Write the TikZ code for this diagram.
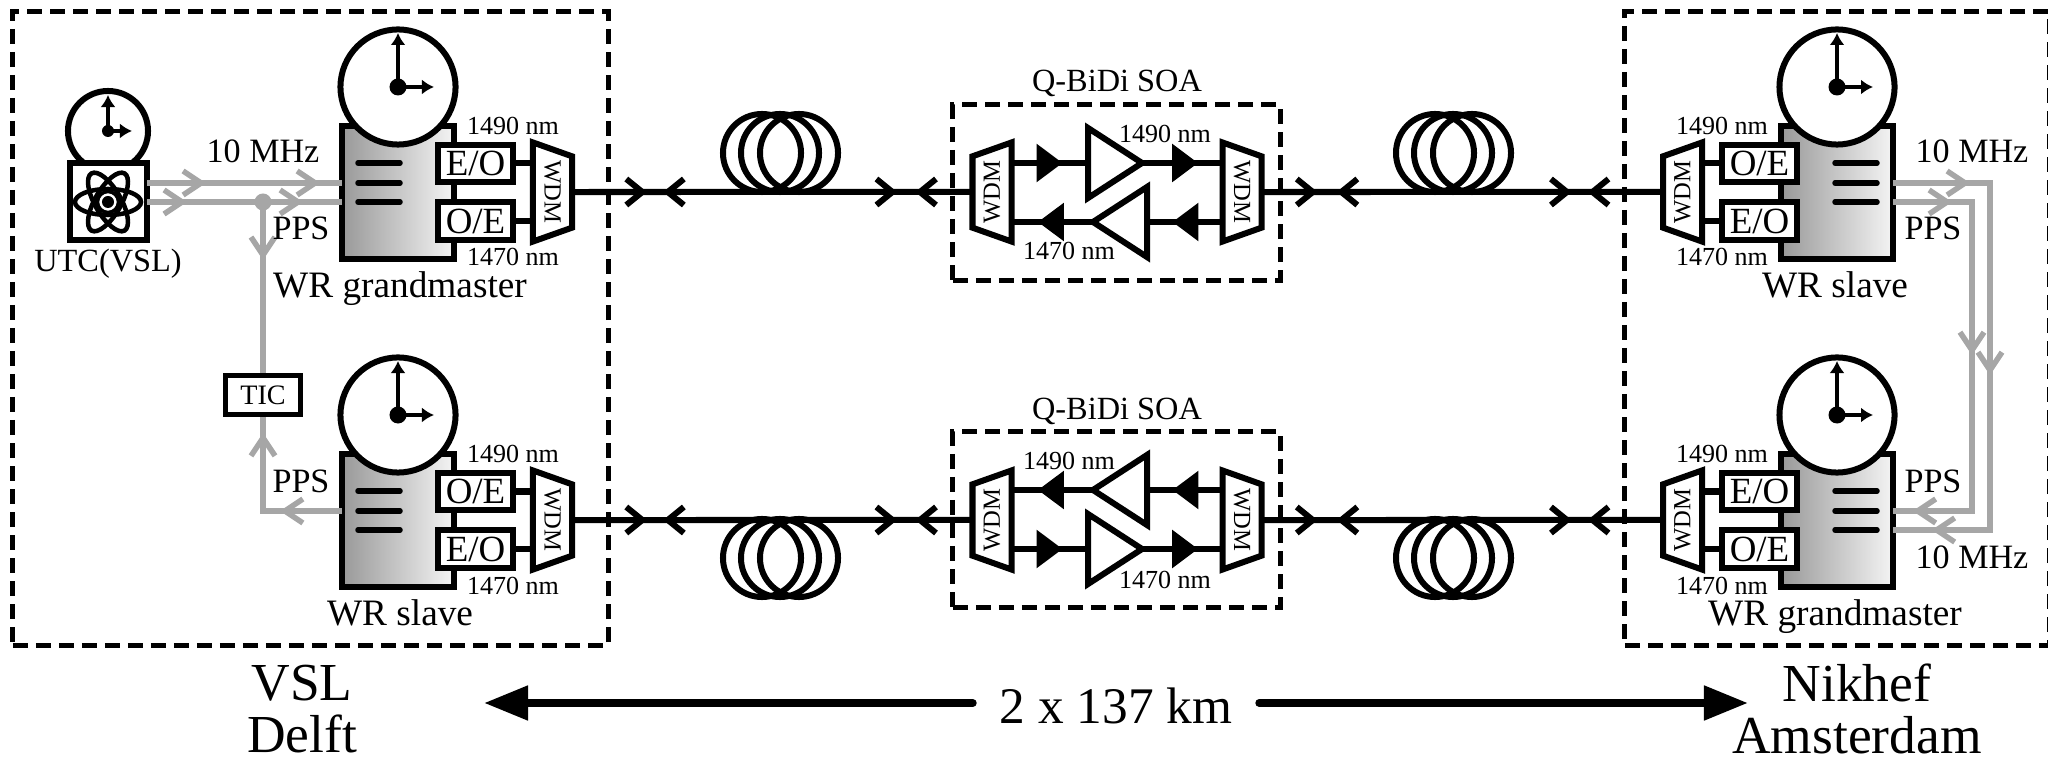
\documentclass[tikz,border=0pt]{standalone}
\usepackage{xcolor}
\usepackage{fontspec}
\setmainfont{Liberation Serif}
\usepackage{tikz}
\usetikzlibrary{arrows.meta,shapes.geometric,decorations.markings}
\definecolor{siggray}{HTML}{A6A6A6}
\definecolor{bodydark}{HTML}{999999}
\definecolor{bodylight}{HTML}{F4F4F4}

% one White Rabbit device with its clock, converters and WDM
\newcommand{\wrstation}[6]{
    \begin{scope}[#2]
        \node[wrbody] (#1) at (398,192.5) {};
        \node[clockface] (#1clock) at (398,87) {};
        \node[hub] (#1hub) at (398,87) {};
        \draw[bar] (358,163) -- (400,163);
        \draw[bar] (358,183) -- (400,183);
        \draw[bar] (358,202) -- (400,202);
        \node[convbox] (#1up) at (475.5,163.5) {#4};
        \node[convbox] (#1low) at (475.5,221) {#5};
        \node[wdm,rotate=#3] (#1wdm) at (552.5,192) {WDM};
        \node[nmlabel] (#1nma) at (513,135) {1490 nm};
        \node[nmlabel] (#1nmb) at (513,266) {1470 nm};
        \node[devlabel] (#1title) at (400,298) {#6};
    \end{scope}
    \draw[clockhand] (#1hub.center) -- ++(0,-54);
    \draw[clockhand] (#1hub.center) -- ++(36,0);
    \draw[wire] (#1wdm.south |- #1up) -- (#1up);
    \draw[wire] (#1wdm.south |- #1low) -- (#1low);
}
% bidirectional amplifier block
\newcommand{\soaunit}[2]{
    \begin{scope}[#2]
        \node[sitebox,minimum width=3.27cm,minimum height=1.75cm] (#1box) at (1116.5,192.5) {};
        \node[wdm,rotate=90] (#1wl) at (992,192) {WDM};
        \node[wdm,rotate=-90] (#1wr) at (1242,192) {WDM};
        \node[amp,anchor=lower side] (#1ampa) at (1088,163) {};
        \node[amp,shape border rotate=180,anchor=lower side] (#1ampb) at (1147,222) {};
        \draw[wire,soatip=0.51cm] (#1wl.south |- #1ampa.lower side) -- (#1ampa.lower side);
        \draw[wire,soatip=0.56cm] (#1ampa.apex) -- (#1wr.south |- #1ampa.apex);
        \draw[wire,soatip=0.50cm] (#1wr.south |- #1ampb.lower side) -- (#1ampb.lower side);
        \draw[wire,soatip=0.55cm] (#1ampb.apex) -- (#1wl.south |- #1ampb.apex);
    \end{scope}
}
\newcommand{\fibrecoil}[3]{
    \node[coilring] (#1a) at (#2-18,#3) {};
    \node[coilring] (#1b) at (#2,#3) {};
    \node[coilring] (#1c) at (#2+19,#3) {};
}

\begin{document}
\begin{tikzpicture}[
        x=0.01cm,y=-0.01cm,
        wire/.style={line width=0.06cm},
        bar/.style={line width=0.055cm,line cap=round},
        sig/.style={line width=0.055cm,siggray},
        wrbody/.style={
            rectangle,
            draw,
            line width=0.06cm,
            left color=bodydark,
            right color=bodylight,
            minimum width=1.12cm,
            minimum height=1.33cm,
            outer sep=0pt
        },
        clockface/.style={
            circle,
            draw,
            line width=0.06cm,
            fill=white,
            inner sep=0pt,
            minimum size=1.15cm
        },
        hub/.style={circle,fill,inner sep=0pt,minimum size=0.17cm},
        smallhub/.style={circle,fill,inner sep=0pt,minimum size=0.12cm},
        clockhand/.style={line width=0.045cm,-{Latex[length=0.12cm,width=0.15cm]}},
        convbox/.style={
            rectangle,
            draw,
            line width=0.06cm,
            fill=white,
            minimum width=0.75cm,
            minimum height=0.37cm,
            inner sep=0pt,
            outer sep=0pt,
            font=\fontsize{10.5}{10.5}\selectfont
        },
        wdm/.style={
            trapezium,
            trapezium stretches body,
            trapezium angle=50,
            draw,
            line width=0.06cm,
            fill=white,
            minimum width=0.99cm,
            minimum height=0.39cm,
            inner sep=0pt,
            outer sep=0pt,
            font=\fontsize{7}{7}\selectfont
        },
        amp/.style={
            isosceles triangle,
            isosceles triangle stretches,
            draw,
            line width=0.06cm,
            fill=white,
            minimum width=0.70cm,
            minimum height=0.54cm,
            inner sep=0pt,
            outer sep=0pt
        },
        sitebox/.style={
            rectangle,
            draw,
            line width=0.05cm,
            dash pattern=on 0.15cm off 0.08cm,
            inner sep=0pt
        },
        coilring/.style={circle,draw,line width=0.06cm,inner sep=0pt,minimum size=0.78cm},
        nmlabel/.style={anchor=base,inner sep=0pt,font=\fontsize{7.4}{8}\selectfont},
        mainlabel/.style={anchor=base,inner sep=0pt,font=\fontsize{9.7}{10}\selectfont},
        devlabel/.style={anchor=base,inner sep=0pt,font=\fontsize{10.6}{11}\selectfont},
        smalllabel/.style={anchor=base,inner sep=0pt,font=\fontsize{9.2}{10}\selectfont},
        citylabel/.style={align=center,inner sep=0pt,font=\fontsize{15.2}{15}\selectfont},
        orbit/.style={ellipse,draw,line width=0.045cm,inner sep=0pt,minimum width=0.66cm,minimum height=0.26cm},
        fibre/.style={line width=0.06cm},
        span/.style={line width=0.08cm,line cap=round},
        sigtip/.style={postaction={decorate,decoration={markings,mark=at position #1 with {\arrow{Straight Barb[length=0.18cm,width=0.24cm]}}}}},
        fibretip/.style={postaction={decorate,decoration={markings,mark=at position #1 with {\arrow{Straight Barb[length=0.16cm,width=0.26cm]}}}}},
        fibreback/.style={postaction={decorate,decoration={markings,mark=at position #1 with {\arrowreversed{Straight Barb[length=0.16cm,width=0.26cm]}}}}},
        soatip/.style={postaction={decorate,decoration={markings,mark=at position #1 with {\arrow{Triangle[length=0.26cm,width=0.37cm]}}}}}
    ]
        \useasboundingbox (0,0) rectangle (2048,764);

        \node[sitebox,minimum width=5.95cm,minimum height=6.33cm] (vslsite) at (310.5,328.5) {};
        \node[sitebox,minimum width=4.24cm,minimum height=6.33cm] (nikhefsite) at (1837,328.5) {};

        % VSL time reference
        \node[clockface,minimum size=0.80cm] (utcclock) at (108,131) {};
        \node[smallhub] (utchub) at (108,131) {};
        \draw[clockhand] (utchub.center) -- ++(0,-36);
        \draw[clockhand] (utchub.center) -- ++(24,0);
        \node[rectangle,draw,line width=0.06cm,fill=white,minimum size=0.77cm,inner sep=0pt,outer sep=0pt] (utc) at (108.5,201.5) {};
        \node[orbit] (orba) at (108,202) {};
        \node[orbit,rotate=60] (orbb) at (108,202) {};
        \node[orbit,rotate=120] (orbc) at (108,202) {};
        \node[circle,draw,line width=0.035cm,inner sep=0pt,minimum size=0.21cm] (ring) at (108,202) {};
        \node[smallhub] (nucleus) at (108,202) {};
        \node[smalllabel] (utclabel) at (108,272) {UTC(VSL)};

        \wrstation{vslmaster}{shift={(0,0)}}{-90}{E/O}{O/E}{WR grandmaster}
        \wrstation{vslslave}{shift={(0,328)}}{-90}{O/E}{E/O}{WR slave}
        \wrstation{nkslave}{shift={(2235,0)},xscale=-1}{90}{O/E}{E/O}{WR slave}
        \wrstation{nkmaster}{shift={(2235,328)},xscale=-1}{90}{E/O}{O/E}{WR grandmaster}

        \soaunit{soaa}{shift={(0,0)}}
        \soaunit{soab}{shift={(0,712)},yscale=-1}
        \node[smalllabel] (soaatitle) at (1117,92) {Q-BiDi SOA};
        \node[smalllabel] (soabtitle) at (1117,420) {Q-BiDi SOA};
        \node[nmlabel] (soaanma) at (1165,143) {1490 nm};
        \node[nmlabel] (soaanmb) at (1069,260) {1470 nm};
        \node[nmlabel] (soabnma) at (1069,470) {1490 nm};
        \node[nmlabel] (soabnmb) at (1165,588) {1470 nm};

        \fibrecoil{coila}{780}{153}
        \fibrecoil{coilb}{1453}{153}
        \fibrecoil{coilc}{780}{558}
        \fibrecoil{coild}{1453}{558}

        \draw[fibre,fibretip=0.75cm,fibreback=0.91cm,fibretip=3.25cm,fibreback=3.43cm] (vslmasterwdm.north) -- (soaawl.north);
        \draw[fibre,fibretip=0.56cm,fibreback=0.75cm,fibretip=3.10cm,fibreback=3.26cm] (soaawr.north) -- (nkslavewdm.north);
        \draw[fibre,fibretip=0.75cm,fibreback=0.91cm,fibretip=3.25cm,fibreback=3.43cm] (vslslavewdm.north) -- (soabwl.north);
        \draw[fibre,fibretip=0.56cm,fibreback=0.75cm,fibretip=3.10cm,fibreback=3.26cm] (soabwr.north) -- (nkmasterwdm.north);

        % signal lines
        \node[rectangle,draw,line width=0.05cm,fill=white,minimum width=0.75cm,minimum height=0.39cm,inner sep=0pt,font=\fontsize{8}{8}\selectfont] (tic) at (263,395) {TIC};
        \node[circle,fill=siggray,inner sep=0pt,minimum size=0.17cm] (tee) at (263,202) {};
        \draw[sig,sigtip=0.59cm,sigtip=1.73cm] (utc.east |- 0,183) -- (vslmaster.west |- 0,183);
        \draw[sig,sigtip=0.40cm,sigtip=1.56cm] (utc.east |- 0,202) -- (vslmaster.west |- 0,202);
        \draw[sig,sigtip=0.58cm] (tee.center) -- (tic);
        \draw[sig,sigtip=0.62cm,sigtip=1.57cm] (vslslave.west |- 0,511) -| (tic);
        \draw[sig,sigtip=0.77cm,sigtip=2.89cm,sigtip=5.02cm] (nkslave.east |- 0,183) -| (1990,530) -- (nkmaster.east |- 0,530);
        \draw[sig,sigtip=0.59cm,sigtip=2.32cm,sigtip=4.47cm] (nkslave.east |- 0,202) -| (1972,511) -- (nkmaster.east |- 0,511);

        \node[mainlabel] (mhza) at (263,163) {10 MHz};
        \node[mainlabel] (ppsa) at (301,240) {PPS};
        \node[mainlabel] (ppsb) at (301,492) {PPS};
        \node[mainlabel] (mhzb) at (1972,163) {10 MHz};
        \node[mainlabel] (ppsc) at (1933,240) {PPS};
        \node[mainlabel] (ppsd) at (1933,492) {PPS};
        \node[mainlabel] (mhzc) at (1972,568) {10 MHz};

        % distance arrow
        \coordinate (spanleft) at (484,703);
        \coordinate (spanright) at (1748,703);
        \node[anchor=base,minimum width=2.85cm,inner sep=0pt,font=\fontsize{14.6}{15}\selectfont] (spanlabel) at (1116,723) {2 x 137 km};
        \draw[span,-{Triangle[length=0.44cm,width=0.33cm]}] (spanleft -| spanlabel.west) -- (spanleft);
        \draw[span,-{Triangle[length=0.44cm,width=0.33cm]}] (spanright -| spanlabel.east) -- (spanright);

        \node[citylabel] (delft) at (302,709) {VSL\\Delft};
        \node[citylabel] (amsterdam) at (1857,709) {Nikhef\\Amsterdam};
    \end{tikzpicture}
\end{document}
